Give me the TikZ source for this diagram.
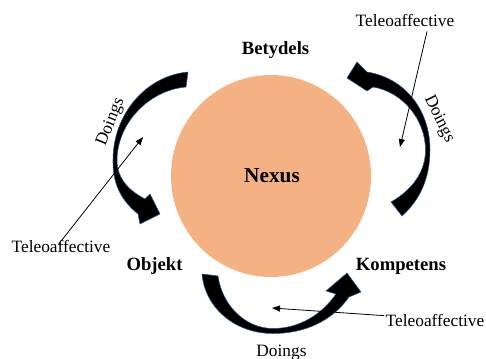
\documentclass[tikz,border=0pt]{standalone}
\usepackage{fontspec}
\setmainfont{Liberation Serif}
\usetikzlibrary{arrows.meta}
\definecolor{nexusorange}{RGB}{244,177,131}
\definecolor{edgeblue}{RGB}{45,90,140}
\begin{document}
\begin{tikzpicture}[x=0.75pt,y=-0.75pt,
  lbl/.style={font=\fontsize{14}{16}\selectfont\bfseries, inner sep=0pt, anchor=base},
  txt/.style={font=\fontsize{13}{15}\selectfont, inner sep=0pt, anchor=base},
  bigarrow/.style={fill=black, draw=edgeblue, line width=0.4pt, line join=round},
  thinarrow/.style={draw=black, line width=0.6pt, -{Triangle[length=6pt,width=4.5pt]}}]
\useasboundingbox (0,0) rectangle (486,359);
% circle
\fill[nexusorange] (271,176) circle[x radius=100, y radius=101];
\node[lbl, font=\fontsize{16}{18}\selectfont\bfseries] (nexus) at (272,183) {Nexus};
\node[lbl] (betydels) at (275.5,55) {Betydels};
\node[lbl] (objekt) at (154.5,271) {Objekt};
\node[lbl] (kompetens) at (401,271) {Kompetens};
% curved arrows
% left
\path[bigarrow] (188,72) -- (186,87)
  .. controls (150,90) and (117.5,122) .. (117,160)
  .. controls (117,178) and (128,190) .. (145,199)
  -- (150,194) -- (160,214) -- (140,224) -- (138,214)
  .. controls (122,201) and (112.5,185) .. (113,160)
  .. controls (113,115) and (145,76) .. (188,72) -- cycle;
% right
\path[bigarrow] (391,202) -- (402,216)
  .. controls (420,200) and (430,178) .. (430,150)
  .. controls (430,110) and (405,78) .. (367,72)
  -- (357,62) -- (347,78) -- (367,91) -- (373,87)
  .. controls (403,92) and (425.5,120) .. (425.5,150)
  .. controls (425.5,172) and (412,190) .. (391,202) -- cycle;
% bottom
\path[bigarrow] (202,274) -- (218,276)
  .. controls (222,305) and (245,328.5) .. (273,328.5)
  .. controls (300,328.5) and (322,314) .. (336,294)
  -- (326,291) -- (347,273) -- (361,292) -- (349,297)
  .. controls (332,321) and (305,333.5) .. (273,333.5)
  .. controls (235,333.5) and (205,308) .. (202,274) -- cycle;
% Doings labels
\node[txt, anchor=center, rotate=68] (doingsL) at (111,122) {Doings};
\node[txt, anchor=center, rotate=-64] (doingsR) at (439,119) {Doings};
\node[txt] (doingsB) at (281.5,357) {Doings};
% Teleoaffective labels
\node[txt] (teleL) at (61,253) {Teleoaffective};
\node[txt] (teleT) at (405,27) {Teleoaffective};
\node[txt] (teleB) at (435,327) {Teleoaffective};
\coordinate (tipL) at (143,137);
\coordinate (tipT) at (400,147);
\coordinate (tipB) at (272,308);
\draw[thinarrow] ([shift={(-2pt,-3pt)}]teleL.north) -- (tipL);
\draw[thinarrow] ([shift={(16.5pt,-3pt)}]teleT.south) -- (tipT);
\draw[thinarrow] ([shift={(-1pt,4pt)}]teleB.west) -- (tipB);
\end{tikzpicture}
\end{document}
